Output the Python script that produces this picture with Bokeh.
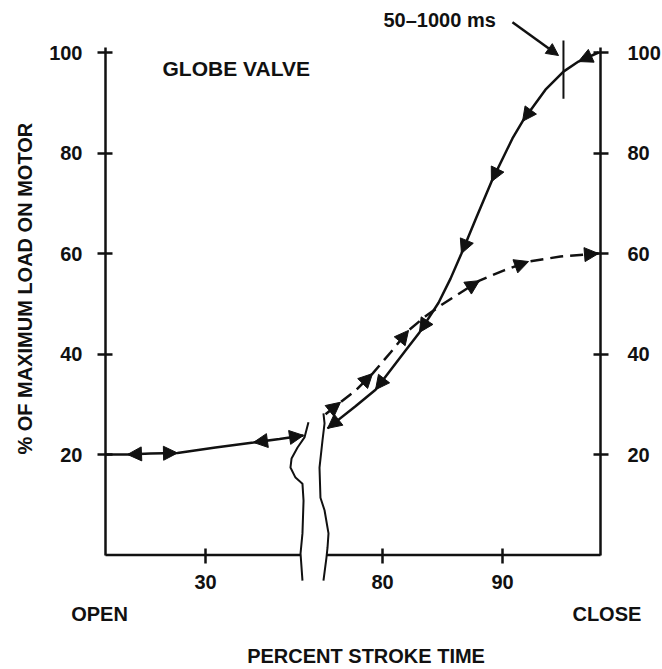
from bokeh.plotting import figure
from bokeh.models import (Range1d, LinearAxis, FixedTicker, CustomJSTickFormatter, Label,
                          Arrow, NormalHead, ColumnDataSource)
from bokeh.embed import file_html
from bokeh.resources import INLINE

# ---------------- data ----------------
# left, compressed part of the stroke (percent stroke time 0 .. ~59)
left_time = [0.0, 6.6, 13.5, 21.6, 33.0, 44.4, 52.2, 59.4]
left_load = [20.0, 20.0, 20.2, 20.3, 21.4, 22.4, 23.1, 23.8]
left_arrows = [(2, 1), (2, 3), (6, 5), (6, 7)]

# solid curve (arrows pointing down)
solid_time = [98.0, 96.33, 95.08, 93.58, 91.67, 90.83, 89.08, 87.83, 86.58,
              85.67, 84.67, 83.08, 81.92, 79.42, 77.75, 75.42]
solid_load = [100.0, 98.2, 96.2, 92.6, 86.3, 82.9, 74.3, 67.2, 60.0,
              55.0, 50.2, 44.3, 40.7, 32.9, 29.6, 25.2]
solid_arrows = [(0, 1), (3, 4), (5, 6), (7, 8), (10, 11), (12, 13), (14, 15)]

# dashed curve (arrows pointing up)
dashed_time = [75.25, 76.5, 77.75, 79.17, 80.67, 82.17, 83.58, 85.0, 86.5,
               88.08, 90.08, 92.17, 94.83, 98.0]
dashed_load = [28.0, 30.4, 32.7, 36.1, 40.3, 44.7, 47.5, 49.9, 52.2,
               54.6, 56.6, 58.4, 59.4, 60.0]
dashed_arrows = [(0, 1), (2, 3), (4, 5), (8, 9), (10, 11), (12, 13)]

marker_time = 95.08          # "50-1000 ms" mark
y_ticks = [20, 40, 60, 80, 100]
x_tick_times = [30, 80, 90]
x_tick_labels = ["30", "80", "90"]

# axis break (wavy lines), in axis units
break_left_x = [73.83, 73.5, 72.92, 72.42, 72.33, 72.75, 73.33, 73.42, 73.33, 73.17, 73.33]
break_left_y = [26.4, 23.4, 21.4, 19.2, 17.4, 15.4, 14.2, 10.8, 4.3, 0.3, -5.1]
break_right_x = [75.08, 75.17, 75.0, 74.75, 74.83, 75.17, 75.5, 75.42, 75.33, 75.08]
break_right_y = [28.2, 26.2, 22.8, 17.4, 11.4, 8.9, 4.3, 1.5, -0.5, -5.1]

# ---------------- axis mapping ----------------
LEFT_ORIGIN = 80 - 277 / 12.0       # axis position of 0 % (left segment)
LEFT_SCALE = (100 / 30.0) / 12.0     # compression of the left segment
X_END = 98.167
Y_TOP = 101.0

W, H = 662, 669
PX_X, PX_Y = 12.0, 5.025
X0 = 80 - 382 / PX_X
Y1 = 554.5 / PX_Y


def left_pos(t):
    return LEFT_ORIGIN + t * LEFT_SCALE


def tick_pos(t):
    return left_pos(t) if t < 60 else t


FONT = "Liberation Sans"
INK = "#111111"

# the frame covers the whole canvas; axes are placed at fixed locations
p = figure(frame_width=W, frame_height=H,
           x_range=Range1d(X0, X0 + W / PX_X), y_range=Range1d(Y1 - H / PX_Y, Y1),
           min_border=0, min_border_left=0, min_border_right=0,
           min_border_top=0, min_border_bottom=0,
           output_backend="svg", toolbar_location=None)
p.outline_line_color = None
p.grid.visible = False
p.background_fill_color = "white"
p.border_fill_color = "white"

# x axis (drawn at y = 0)
xa = p.xaxis[0]
xtp = [tick_pos(t) for t in x_tick_times]
xa.fixed_location = 0
xa.ticker = FixedTicker(ticks=xtp)
xa.formatter = CustomJSTickFormatter(
    args=dict(pos=xtp, names=x_tick_labels),
    code="const i = pos.findIndex(v => Math.abs(v - tick) < 1e-6); return i >= 0 ? names[i] : '';")
xa.axis_line_color = None
xa.major_tick_in = 7
xa.major_tick_out = 8
xa.major_tick_line_width = 2.5
xa.major_tick_line_color = INK
xa.minor_tick_line_color = None
xa.major_label_standoff = 12
xa.major_label_text_font = FONT
xa.major_label_text_font_style = "bold"
xa.major_label_text_font_size = "20px"
xa.major_label_text_color = INK

# y axes (left at 0 % stroke, right at the end of the stroke)
ra = LinearAxis()
p.add_layout(ra, "right")
for ax, so, loc in ((p.yaxis[0], 15, LEFT_ORIGIN), (ra, 19, X_END)):
    ax.fixed_location = loc
    ax.ticker = FixedTicker(ticks=y_ticks)
    ax.bounds = (0, Y_TOP)
    ax.axis_line_width = 2.5
    ax.axis_line_color = INK
    ax.major_tick_in = 7
    ax.major_tick_out = 8
    ax.major_tick_line_width = 2.5
    ax.major_tick_line_color = INK
    ax.minor_tick_line_color = None
    ax.major_label_standoff = so
    ax.major_label_text_font = FONT
    ax.major_label_text_font_style = "bold"
    ax.major_label_text_font_size = "20px"
    ax.major_label_text_color = INK

# broken x axis line
p.line([LEFT_ORIGIN, 73.17], [0, 0], line_width=2.5, line_color=INK)
p.line([75.35, X_END], [0, 0], line_width=2.5, line_color=INK)
p.line(break_left_x, break_left_y, line_width=2, line_color=INK)
p.line(break_right_x, break_right_y, line_width=2, line_color=INK)

# curves
lx = [left_pos(t) for t in left_time]
p.line(lx, left_load, line_width=2.5, line_color=INK)
p.line(solid_time, solid_load, line_width=2.5, line_color=INK)
p.line(dashed_time, dashed_load, line_width=2.5, line_color=INK, line_dash="13 7")


def add_heads(xs, ys, pairs):
    src = ColumnDataSource(dict(
        x0=[xs[a] for a, b in pairs], y0=[ys[a] for a, b in pairs],
        x1=[xs[b] for a, b in pairs], y1=[ys[b] for a, b in pairs]))
    p.add_layout(Arrow(end=NormalHead(size=14, fill_color=INK, line_color=INK, line_width=1),
                       line_alpha=0, source=src,
                       x_start="x0", y_start="y0", x_end="x1", y_end="y1"))


add_heads(lx, left_load, left_arrows)
add_heads(solid_time, solid_load, solid_arrows)
add_heads(dashed_time, dashed_load, dashed_arrows)

# 50-1000 ms mark
p.add_layout(Arrow(end=None, x_start=marker_time, y_start=102.4, x_end=marker_time, y_end=90.8,
                   line_width=2, line_color=INK))
p.add_layout(Arrow(end=NormalHead(size=12, fill_color=INK, line_color=INK),
                   x_start=90.83, y_start=106.0, x_end=94.67, y_end=99.4,
                   line_width=2.5, line_color=INK))


def lab(text, x, y, align="left", angle=0.0, size="20px"):
    p.add_layout(Label(text=text, x=x, y=y, text_align=align, text_baseline="middle",
                       angle=angle, text_font=FONT, text_font_style="bold",
                       text_font_size=size, text_color=INK))


lab("GLOBE VALVE", 61.67, 96.8, size="21px")
lab("50\u20131000 ms", 80.08, 106.4)
lab("OPEN", 56.42, -11.8, align="center")
lab("CLOSE", 98.7, -11.8, align="center")
lab("PERCENT STROKE TIME", 78.63, -20.0, align="center")
lab("% OF MAXIMUM LOAD ON MOTOR", 50.21, 53.0, align="center", angle=1.5707963)

open("out.html", "w").write(file_html(p, INLINE))
